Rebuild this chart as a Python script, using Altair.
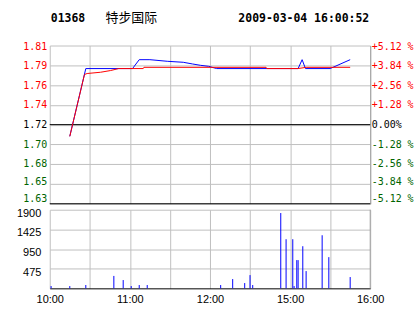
import json
import altair as alt
import pandas as pd

# ---------------- data ----------------
code = "01368"
name = "特步国际"
stamp = "2009-03-04 16:00:52"

prev_close = 1.72
price_ticks = [1.631936, 1.653952, 1.675968, 1.697984, 1.72,
               1.742016, 1.764032, 1.786048, 1.808064]

# trading minutes after 10:00 (12:00-12:30 then 14:30-16:00)
x_ticks = [0, 30, 60, 90, 120, 150, 180, 210, 240]
x_labels = ["10:00", "", "11:00", "", "12:00", "", "15:00", "", "16:00"]

price_t = [15, 27, 62, 67, 75, 88, 100, 107, 113, 119, 125, 162, 186, 189, 191.5, 210, 225]
price_v = [1.7070, 1.7824, 1.7824, 1.7923, 1.7923, 1.7905, 1.7894, 1.7875, 1.7860,
           1.7849, 1.7824, 1.7824, 1.7824, 1.7923, 1.7824, 1.7824, 1.7923]

avg_t = [15, 26, 28, 38, 45.5, 51.6, 70, 70.5, 162, 162.5, 186, 192, 225]
avg_v = [1.7070, 1.7758, 1.7769, 1.7783, 1.7802, 1.7824, 1.7824, 1.7838, 1.7838,
         1.7824, 1.7824, 1.7838, 1.7838]

vol_t = [1, 15, 27, 48, 55, 61, 67, 73, 128, 137, 146, 150, 152, 173, 177, 182,
         183, 185, 186, 189.5, 192, 204, 209, 225]
vol_v = [55, 55, 80, 300, 200, 55, 80, 80, 80, 224, 128, 320, 80, 1820, 1187, 1187,
         55, 682, 682, 1018, 417, 1283, 754, 273]
vol_ticks = [475, 950, 1425, 1900]

# ---------------- styling ----------------
RED = "#ff0000"
GREEN = "#006400"
BLUE = "#0000ff"
GRID = "#c0c0c0"
MONO = "DejaVu Sans Mono"
SANS = "Liberation Sans"

price_df = pd.DataFrame({"t": price_t, "p": price_v})
avg_df = pd.DataFrame({"t": avg_t, "p": avg_v})
vol_df = pd.DataFrame({"t": vol_t, "v": vol_v})
black_df = pd.DataFrame({"p": [prev_close, price_ticks[0]]})
one = pd.DataFrame({"k": [0]})

label_color = {
    "condition": [
        {"test": f"datum.value > {prev_close + 0.0001}", "value": RED},
        {"test": f"datum.value < {prev_close - 0.0001}", "value": GREEN},
    ],
    "value": "#000000",
}
label_shift = {
    "condition": [
        {"test": "datum.value < 1.64", "value": -5},
        {"test": "datum.value < 1.66", "value": -2.5},
        {"test": "datum.value < 1.68", "value": -1},
        {"test": "datum.value > 1.80", "value": 1},
    ],
    "value": 0,
}

xscale = alt.Scale(domain=[0, 240], nice=False, zero=False)
yscale = alt.Scale(domain=[price_ticks[0], price_ticks[-1]], nice=False, zero=False)

x_price = alt.X("t:Q", scale=xscale,
                axis=alt.Axis(values=x_ticks, grid=True, gridColor=GRID, gridWidth=1,
                              labels=False, ticks=False, domain=False, title=None))

left_axis = alt.Axis(values=price_ticks, format=".2f", grid=True, gridColor=GRID,
                     gridWidth=1, domain=False, ticks=False, tickSize=0, labelPadding=3,
                     labelFont=MONO, labelFontSize=10, labelColor=label_color,
                     labelOffset=label_shift, labelOverlap=False, title=None)

pct = f"(datum.value/{prev_close}-1)*100"
right_expr = (f"abs({pct}) < 0.01 ? '\u00a00.00%' : "
              f"({pct} > 0 ? '+' : '-') + format(abs({pct}), '.2f') + ' %'")
right_axis = alt.Axis(orient="right", values=price_ticks, labelExpr=right_expr,
                      grid=False, domain=True, domainColor="#a0a0a0", ticks=False,
                      tickSize=0, labelPadding=1, labelFont=MONO, labelFontSize=10,
                      labelColor=label_color, labelOffset=label_shift,
                      labelOverlap=False, title=None)

blue_line = alt.Chart(price_df).mark_line(color=BLUE, strokeWidth=1).encode(
    x=x_price, y=alt.Y("p:Q", scale=yscale, axis=left_axis))
red_line = alt.Chart(avg_df).mark_line(color=RED, strokeWidth=1).encode(
    x=x_price, y=alt.Y("p:Q", scale=yscale, axis=right_axis))
black_rules = alt.Chart(black_df).mark_rule(color="#000000", strokeWidth=1).encode(
    y=alt.Y("p:Q", scale=yscale, axis=None))

hdr_code = alt.Chart(one).mark_text(text=code, font=MONO, fontWeight="bold", fontSize=11.5,
                                    align="left", baseline="middle").encode(
    x=alt.value(1), y=alt.value(-27))
hdr_name = alt.Chart(one).mark_text(text=name, font="Noto Sans CJK SC", fontSize=13,
                                    align="left", baseline="middle").encode(
    x=alt.value(56), y=alt.value(-28))
hdr_time = alt.Chart(one).mark_text(text=stamp, font=MONO, fontWeight="bold", fontSize=11.5,
                                    align="right", baseline="middle").encode(
    x=alt.value(321), y=alt.value(-27))

price_chart = alt.layer(
    black_rules, blue_line, red_line, hdr_code, hdr_name, hdr_time
).resolve_axis(y="independent").properties(width=322, height=159)

x_vol = alt.X("t:Q", scale=xscale,
              axis=alt.Axis(values=x_ticks, grid=True, gridColor=GRID, gridWidth=1,
                            labelExpr=f"{json.dumps(x_labels)}[round(datum.value/30)]",
                            labelFont=SANS, labelFontSize=11, labelColor="#000000",
                            labelPadding=5, labelFlush=False, labelOverlap=False,
                            ticks=False, tickSize=0, domain=True, domainColor="#000000",
                            title=None))

vol_bars = alt.Chart(vol_df).mark_rule(color=BLUE, strokeWidth=1).encode(
    x=x_vol,
    y=alt.Y("v:Q", scale=alt.Scale(domain=[0, 1900], nice=False),
            axis=alt.Axis(values=vol_ticks, format="d", grid=True, gridColor=GRID,
                          gridWidth=1, domain=False, ticks=False, tickSize=0,
                          labelPadding=9, labelFont=SANS, labelFontSize=11,
                          labelColor="#000000", labelOffset=3.5, labelOverlap=False,
                          title=None)),
    y2=alt.datum(0))
vol_border = alt.Chart(pd.DataFrame({"t": [240]})).mark_rule(
    color="#a0a0a0", strokeWidth=1).encode(x=x_vol)

vol_chart = alt.layer(vol_bars, vol_border).properties(width=322, height=79)

chart = alt.vconcat(price_chart, vol_chart, spacing=6, bounds="flush").configure_view(
    stroke=None).properties(padding={"left": 16, "top": 11, "right": 0, "bottom": 0},
                            background="#ffffff")

chart.save("out.html", embed_options={"renderer": "svg", "actions": False})
